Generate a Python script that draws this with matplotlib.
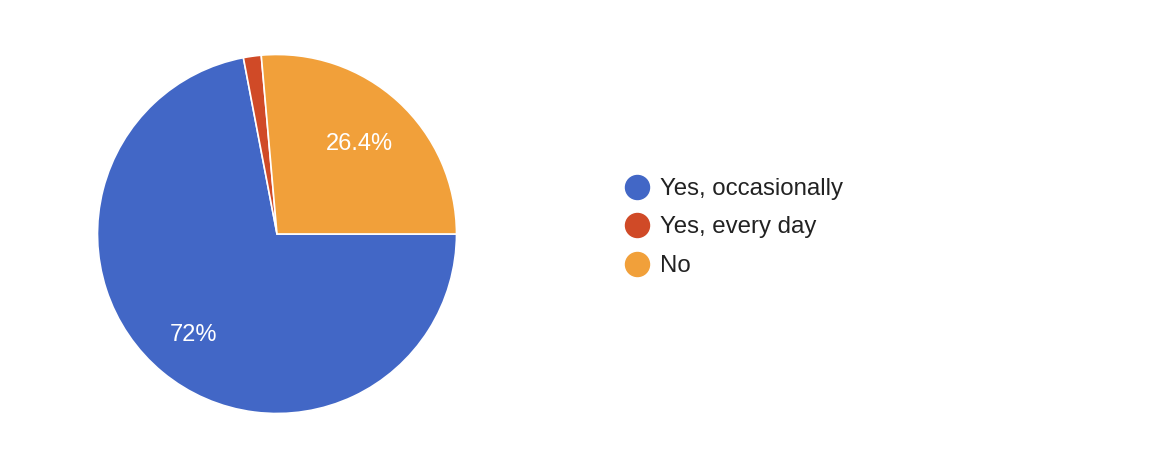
import matplotlib
matplotlib.use("Agg")
import matplotlib.pyplot as plt
from matplotlib.lines import Line2D
import numpy as np

plt.rcParams['font.family'] = ['Liberation Sans', 'DejaVu Sans']

categories = ["Yes, occasionally", "Yes, every day", "No"]
values = [72.0, 1.6, 26.4]
colors = ["#4267c6", "#d04a27", "#f1a03a"]

W, H = 1164, 468
fig = plt.figure(figsize=(W / 100, H / 100), dpi=100)

cx, cy, r = 277, 234, 179.5
ax = fig.add_axes([(cx - r) / W, (H - cy - r) / H, 2 * r / W, 2 * r / H])

def fmt(p):
    if p < 5:
        return ""
    s = f"{p:.1f}"
    if s.endswith(".0"):
        s = s[:-2]
    return s + "%"

wedges, texts, autotexts = ax.pie(
    values, colors=colors, startangle=0, counterclock=False,
    autopct=fmt, pctdistance=0.7,
    wedgeprops=dict(edgecolor="white", linewidth=1.2),
    textprops=dict(color="white", fontsize=17),
)
# label distance per slice (style)
dists = [0.73, 0.7, 0.68]
for w, t, d in zip(wedges, autotexts, dists):
    ang = np.deg2rad((w.theta1 + w.theta2) / 2)
    t.set_position((d * np.cos(ang), d * np.sin(ang)))
ax.set_xlim(-1, 1)
ax.set_ylim(-1, 1)
ax.set_aspect("equal")
ax.axis("off")

handles = [Line2D([], [], marker="o", linestyle="", markersize=17.3,
                  markerfacecolor=c, markeredgecolor=c) for c in colors]
leg = fig.legend(handles, categories, loc="center left",
                 bbox_to_anchor=(625 / W, 1 - 227.5 / H), frameon=False,
                 fontsize=17.3, labelspacing=0.69, handlelength=1.0,
                 handletextpad=0.46, borderaxespad=0, borderpad=0)
for t in leg.get_texts():
    t.set_color("#222222")

fig.savefig("out.png", dpi=100)
